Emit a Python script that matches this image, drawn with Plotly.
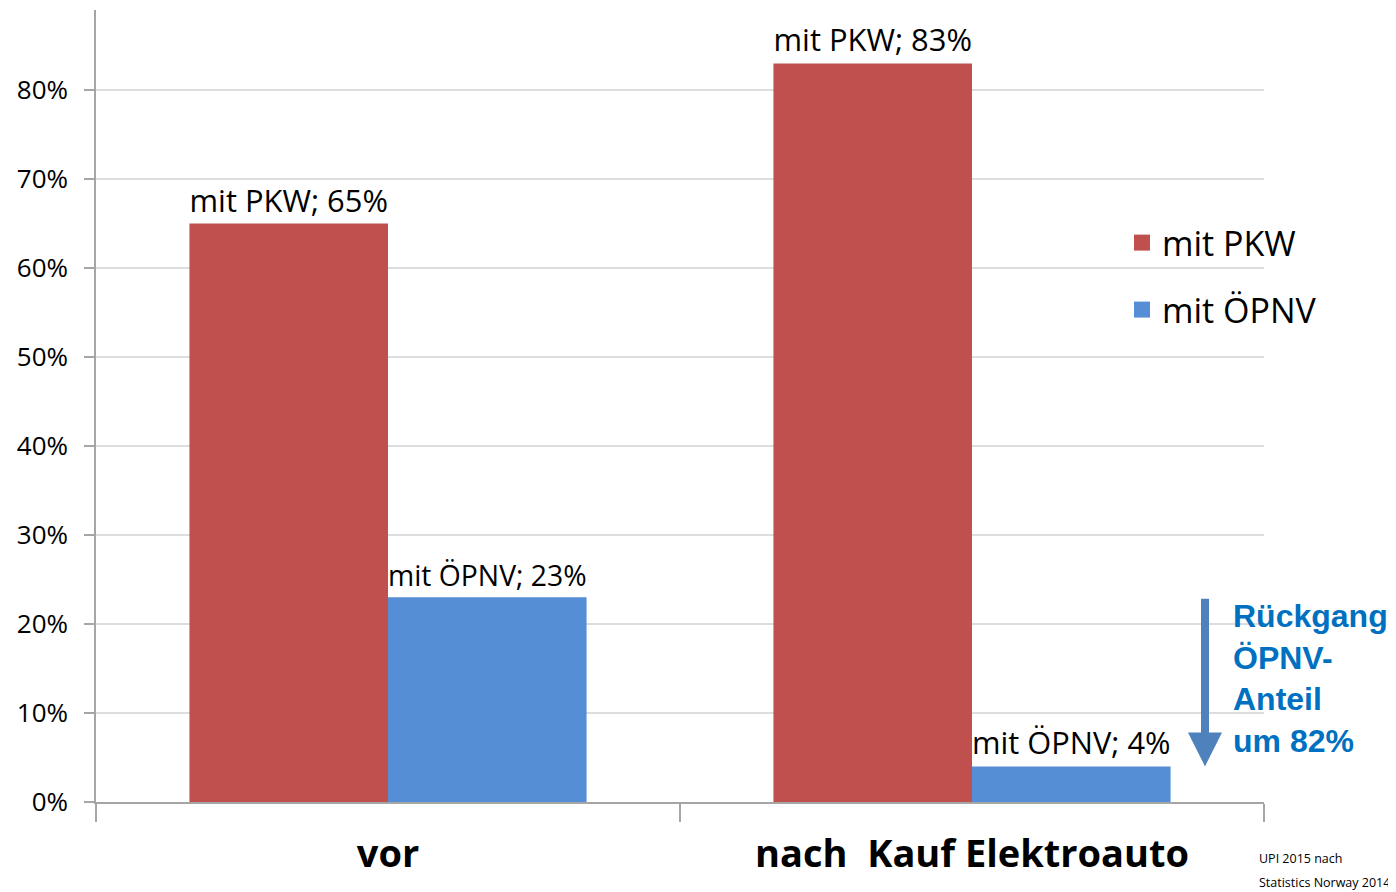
import plotly.graph_objects as go

categories = ["vor", "nach\u00a0 Kauf Elektroauto"]
series_names = ["mit PKW", "mit ÖPNV"]
pkw_values = [0.65, 0.83]
oepnv_values = [0.23, 0.04]
colors = ["#C0504D", "#558ED5"]
y_ticks = [0, 0.1, 0.2, 0.3, 0.4, 0.5, 0.6, 0.7, 0.8]
y_tick_labels = ["0%", "10%", "20%", "30%", "40%", "50%", "60%", "70%", "80%"]
arrow_from = 0.23
arrow_to = 0.04
source_lines = ["UPI 2015 nach", "Statistics Norway 2014"]

FONT = "Open Sans"
# plot area in figure pixels (page body has an 8px margin)
L, R, T, B = 88, 1256, 2, 794
W, H = 1396, 892
PW, PH = R - L, B - T

def px(xpage):
    return (xpage - 8 - L) / PW

def py(ypage):
    return (B - (ypage - 8)) / PH

fig = go.Figure()
for name, vals, col, lg in zip(series_names, [pkw_values, oepnv_values], colors, ["legend", "legend2"]):
    fig.add_trace(go.Bar(
        x=categories, y=vals, name=name, marker=dict(color=col, line=dict(width=0)),
        text=[f"{name}; {round(v*100)}%" for v in vals],
        textposition="outside", cliponaxis=False,
        textfont=dict(family=FONT, size=31, color="black"),
        showlegend=False,
    ))
    fig.add_trace(go.Scatter(
        x=[None], y=[None], mode="markers", name=name, legend=lg,
        marker=dict(symbol="square", size=22, color=col),
    ))

fig.update_layout(
    width=W, height=H,
    margin=dict(l=L, r=W - R, t=T, b=H - B),
    plot_bgcolor="white", paper_bgcolor="white",
    barmode="group", bargap=0.32, bargroupgap=0,
    font=dict(family=FONT, color="black"),
    legend=dict(x=px(1122), y=py(243), xanchor="left", yanchor="middle",
                font=dict(size=34, family=FONT), bgcolor="rgba(0,0,0,0)", itemsizing="trace"),
    legend2=dict(x=px(1122), y=py(310), xanchor="left", yanchor="middle",
                 font=dict(size=34, family=FONT), bgcolor="rgba(0,0,0,0)", itemsizing="trace"),
    xaxis=dict(
        tickson="boundaries", ticks="outside", ticklen=18, tickcolor="#A6A6A6", tickwidth=1.5,
        showline=True, linecolor="#A6A6A6", linewidth=1.5, automargin=False,
        tickfont=dict(size=38, family=FONT, color="black", weight="bold"),
        ticklabelstandoff=18,
    ),
    yaxis=dict(
        range=[0, 0.89], tickvals=y_ticks, ticktext=y_tick_labels,
        ticks="outside", ticklen=10, tickcolor="#A6A6A6", tickwidth=1.5,
        showline=True, linecolor="#A6A6A6", linewidth=1.5, automargin=False,
        showgrid=True, gridcolor="#DDDDDD", gridwidth=1.5,
        zeroline=False,
        tickfont=dict(size=26, family=FONT, color="black"),
        ticklabelstandoff=11,
    ),
)

# decline arrow
fig.add_annotation(
    xref="paper", yref="y", x=px(1205), y=arrow_to,
    axref="pixel", ayref="y", ax=0, ay=arrow_from,
    showarrow=True, arrowhead=2, arrowsize=0.85, arrowwidth=8, arrowcolor="#4F81BD",
    text="",
)
fig.add_annotation(
    xref="paper", yref="y", x=px(1231), y=arrow_from + 0.002, xanchor="left", yanchor="top",
    text="Rückgang<br>ÖPNV-<br>Anteil<br>um 82%", showarrow=False, align="left",
    font=dict(family="Liberation Sans", size=32, color="#0070C0", weight="bold"),
)
for i, line in enumerate(source_lines):
    fig.add_annotation(
        xref="paper", yref="paper", x=px(1257), y=py(858 + 24 * i), xanchor="left", yanchor="middle",
        text=line, showarrow=False, align="left",
        font=dict(family=FONT, size=12.5, color="black"),
    )

fig.write_html("out.html")
